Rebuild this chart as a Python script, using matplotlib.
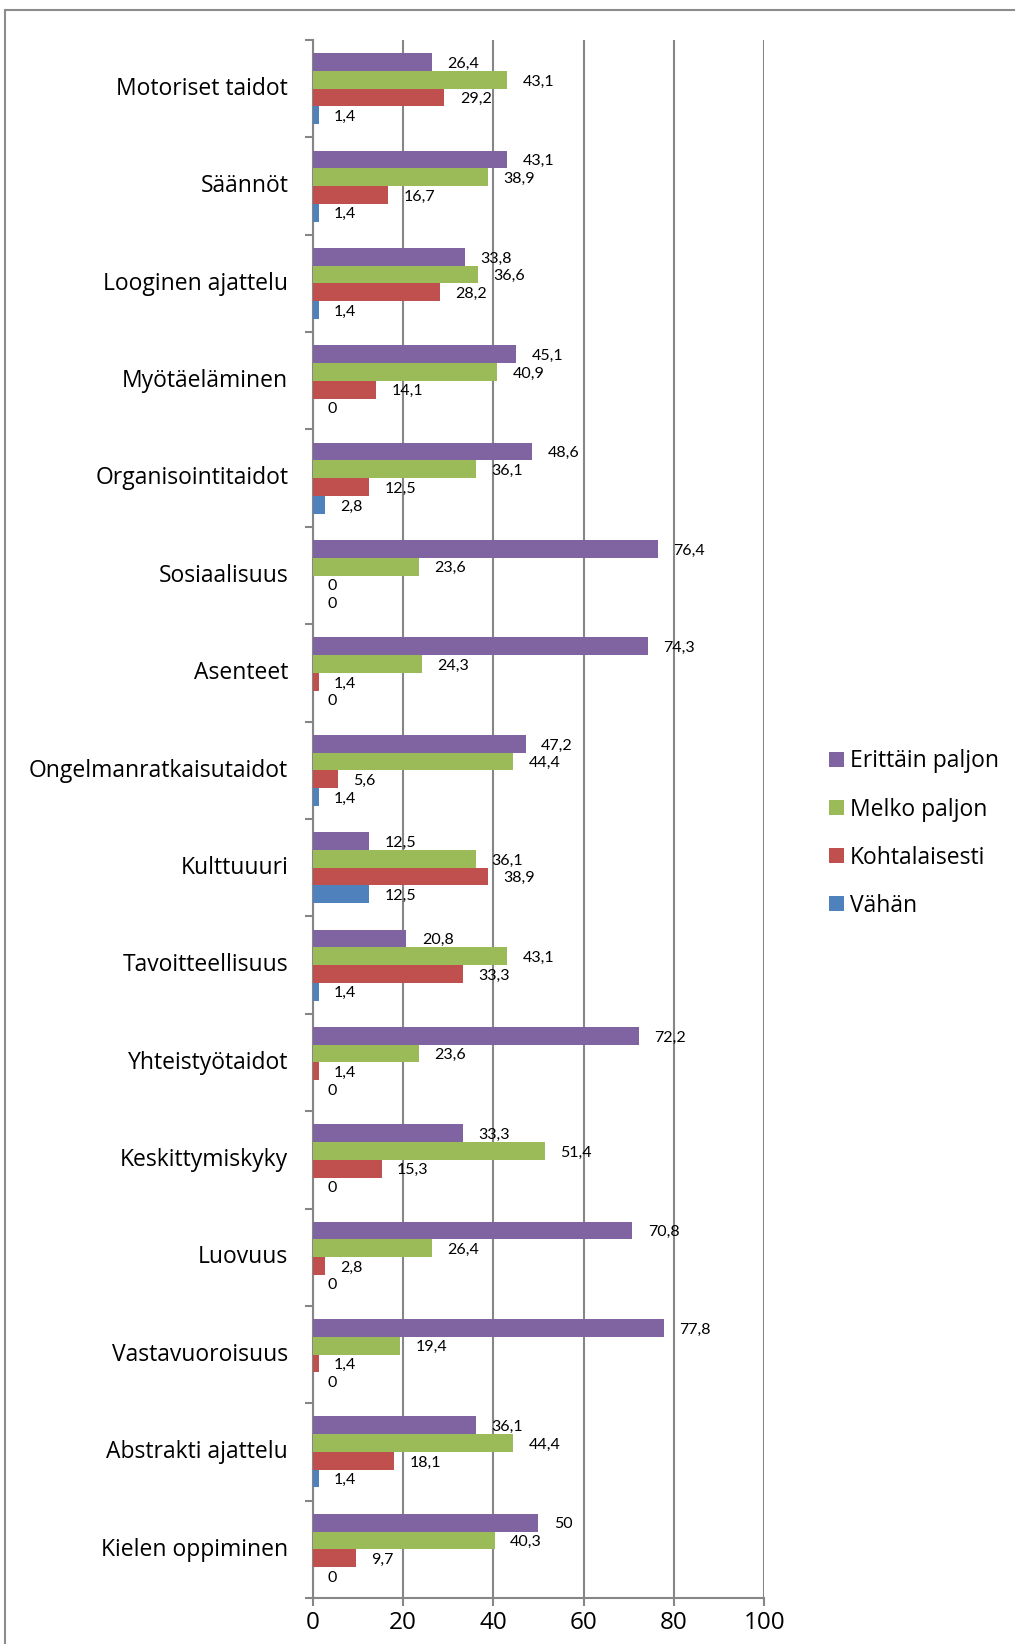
import matplotlib
matplotlib.use("Agg")
import matplotlib.pyplot as plt
from matplotlib.patches import Rectangle
from matplotlib.ticker import FixedLocator
import matplotlib.transforms as mtransforms
import numpy as np

categories = ["Motoriset taidot", "Säännöt", "Looginen ajattelu", "Myötäeläminen",
              "Organisointitaidot", "Sosiaalisuus", "Asenteet", "Ongelmanratkaisutaidot",
              "Kulttuuuri", "Tavoitteellisuus", "Yhteistyötaidot", "Keskittymiskyky",
              "Luovuus", "Vastavuoroisuus", "Abstrakti ajattelu", "Kielen oppiminen"]
erittain = [26.4, 43.1, 33.8, 45.1, 48.6, 76.4, 74.3, 47.2, 12.5, 20.8, 72.2, 33.3, 70.8, 77.8, 36.1, 50]
melko = [43.1, 38.9, 36.6, 40.9, 36.1, 23.6, 24.3, 44.4, 36.1, 43.1, 23.6, 51.4, 26.4, 19.4, 44.4, 40.3]
kohtalaisesti = [29.2, 16.7, 28.2, 14.1, 12.5, 0, 1.4, 5.6, 38.9, 33.3, 1.4, 15.3, 2.8, 1.4, 18.1, 9.7]
vahan = [1.4, 1.4, 1.4, 0, 2.8, 0, 0, 1.4, 12.5, 1.4, 0, 0, 0, 0, 1.4, 0]
series_names = ["Erittäin paljon", "Melko paljon", "Kohtalaisesti", "Vähän"]
xticks = [0, 20, 40, 60, 80, 100]

colors = ["#8064A2", "#9BBB59", "#C0504D", "#4F81BD"]
MAIN = ["Open Sans", "DejaVu Sans"]
LBL = ["Lato", "DejaVu Sans"]
plt.rcParams['font.family'] = MAIN

W, H = 1015, 1644
fig = plt.figure(figsize=(W / 100, H / 100), dpi=100)
fig.patch.set_facecolor("white")

# outer frame
fig.patches.append(Rectangle((5 / W, -0.1), 1.2, 1.1 - 10 / H, transform=fig.transFigure,
                             fill=False, edgecolor="#8c8c8c", linewidth=1.5, zorder=0))

left, right = 312.5 / W, 764.4 / W
top, bottom = 1 - 40 / H, 1 - 1598 / H
ax = fig.add_axes([left, bottom, right - left, top - bottom])

n = len(categories)
y = np.arange(n)
h = 0.182
all_series = [erittain, melko, kohtalaisesti, vahan]
for i, (vals, name, c) in enumerate(zip(all_series, series_names, colors)):
    ypos = y + (i - 1.5) * h
    ax.barh(ypos, vals, height=h, color=c, label=name, zorder=3, linewidth=0)
    for yy, v in zip(ypos, vals):
        lab = f"{v:g}".replace(".", ",")
        ax.annotate(lab, xy=(v, yy), xytext=(11, -1.2), textcoords="offset points",
                    ha="left", va="center", fontsize=11.5, color="black", zorder=4,
                    family=LBL)

ax.set_xlim(0, 100)
ax.set_ylim(n - 0.5, -0.5)
ax.set_xticks(xticks)
ax.set_xticklabels([str(t) for t in xticks], fontsize=17.5)
ax.set_yticks(y)
ax.set_yticklabels(categories, fontsize=16.5)
ax.yaxis.set_minor_locator(FixedLocator(np.arange(-0.5, n, 1.0)))
ax.tick_params(axis="y", which="major", length=0, pad=17.5)
ax.tick_params(axis="y", which="minor", length=6, width=1.5, color="#868686", direction="out")
ax.tick_params(axis="x", which="major", length=6, width=1.5, color="#868686", direction="out", pad=3.5)

shift = mtransforms.ScaledTranslation(0, 2 / 72, fig.dpi_scale_trans)
for lbl in ax.get_yticklabels():
    lbl.set_transform(lbl.get_transform() + shift)

ax.grid(axis="x", color="#868686", linewidth=1.5, zorder=1)
for s in ["top", "right"]:
    ax.spines[s].set_visible(False)
for s in ["left", "bottom"]:
    ax.spines[s].set_color("#868686")
    ax.spines[s].set_linewidth(1.5)

# legend
handles, labels = ax.get_legend_handles_labels()
leg = fig.legend(handles, labels, loc="upper left", bbox_to_anchor=(818 / W, 1 - 738 / H),
                 frameon=False, fontsize=16.5, handlelength=0.65, handleheight=0.65,
                 handletextpad=0.25, labelspacing=1.05, borderpad=0)

fig.savefig("out.png", dpi=100)
